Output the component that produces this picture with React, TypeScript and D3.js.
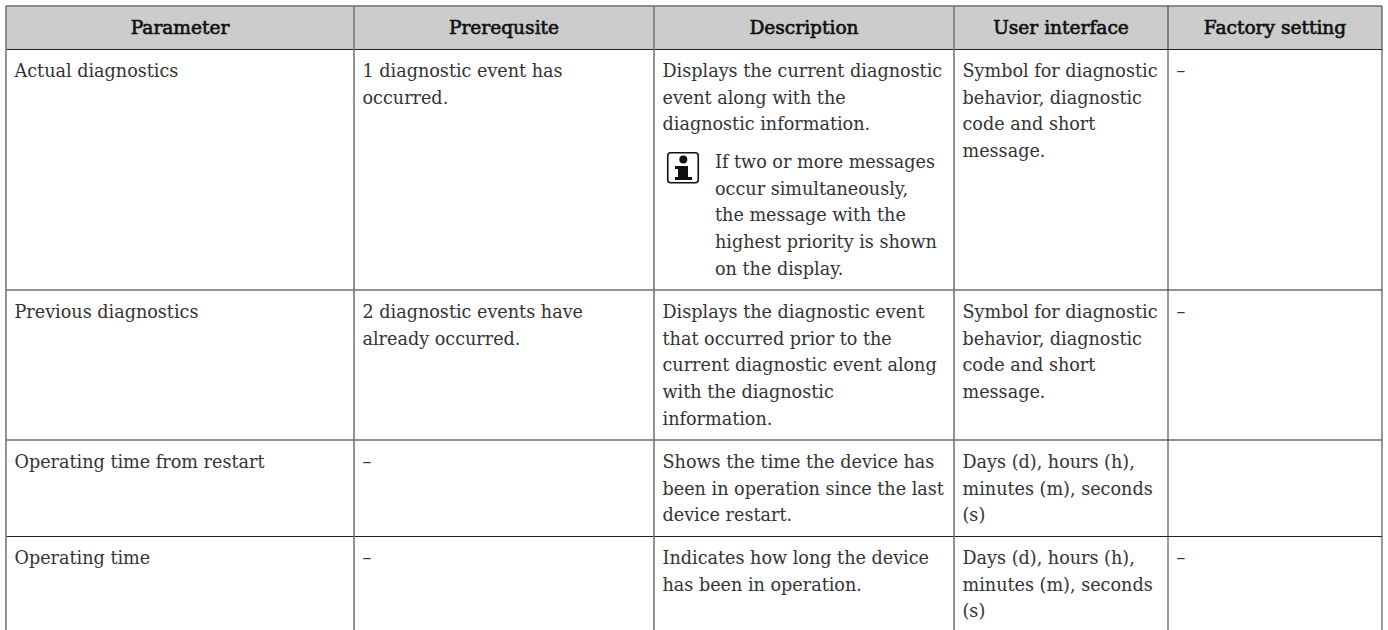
import React from "react";
import * as d3 from "d3";

const headers = ["Parameter", "Prerequsite", "Description", "User interface", "Factory setting"];
const parameters = [
  ["Actual diagnostics"],
  ["Previous diagnostics"],
  ["Operating time from restart"],
  ["Operating time"],
];
const prerequisites = [
  ["1 diagnostic event has", "occurred."],
  ["2 diagnostic events have", "already occurred."],
  ["–"],
  ["–"],
];
const descriptions = [
  ["Displays the current diagnostic", "event along with the", "diagnostic information."],
  [
    "Displays the diagnostic event",
    "that occurred prior to the",
    "current diagnostic event along",
    "with the diagnostic",
    "information.",
  ],
  ["Shows the time the device has", "been in operation since the last", "device restart."],
  ["Indicates how long the device", "has been in operation."],
];
const noteLines = [
  "If two or more messages",
  "occur simultaneously,",
  "the message with the",
  "highest priority is shown",
  "on the display.",
];
const userInterfaces = [
  ["Symbol for diagnostic", "behavior, diagnostic", "code and short", "message."],
  ["Symbol for diagnostic", "behavior, diagnostic", "code and short", "message."],
  ["Days (d), hours (h),", "minutes (m), seconds", "(s)"],
  ["Days (d), hours (h),", "minutes (m), seconds", "(s)"],
];
const factorySettings = [["–"], ["–"], [], ["–"]];

const columns = [parameters, prerequisites, descriptions, userInterfaces, factorySettings];

const WIDTH = 1388;
const HEIGHT = 630;
const FONT = "'DejaVu Serif', serif";
const FONT_SIZE = 17.6;
const TEXT = "#333";

// column and row edges
const colEdges = [6, 354, 654, 954, 1168, 1382];
const rowEdges = [6, 49, 290, 440, 536, 630];

const x = d3.scaleOrdinal<number, number>().domain(d3.range(colEdges.length)).range(colEdges);
const y = d3.scaleOrdinal<number, number>().domain(d3.range(rowEdges.length)).range(rowEdges);
const lineY = d3.scaleLinear().domain([0, 1]).range([0, 26.7]);

const App = () => {
  const pad = 8.5;
  const baseline = 28;
  const noteTop = 168;

  return (
    <svg
      width={WIDTH}
      height={HEIGHT}
      style={{ position: "absolute", left: 0, top: 0, background: "#fff" }}
      fontFamily={FONT}
      fontSize={FONT_SIZE}
    >
      <rect x={x(0)} y={y(0)} width={x(5) - x(0)} height={y(1) - y(0)} fill="#cccccc" />

      {/* grid */}
      {[2, 3].map((i) => (
        <line key={i} x1={x(0)} x2={x(5)} y1={y(i)} y2={y(i)} stroke="#6e6e6e" strokeWidth={1.6} />
      ))}
      {[1, 4].map((i) => (
        <line key={i} x1={x(0)} x2={x(5)} y1={y(i) + 0.5} y2={y(i) + 0.5} stroke="#222" strokeWidth={1} />
      ))}
      <line x1={x(0)} x2={x(5)} y1={y(0)} y2={y(0)} stroke="#6e6e6e" strokeWidth={1.4} />
      {colEdges.map((_, i) => (
        <line
          key={i}
          x1={x(i)}
          x2={x(i)}
          y1={y(0)}
          y2={HEIGHT}
          stroke={i === 4 || i === 5 ? "#333" : "#777"}
          strokeWidth={i === 4 || i === 5 ? 1 : 1.6}
        />
      ))}

      {headers.map((h, i) => (
        <text
          key={h}
          x={(x(i) + x(i + 1)) / 2}
          y={y(0) + 28}
          textAnchor="middle"
          fontSize={18.6}
          fill="#111"
          stroke="#111"
          strokeWidth={0.65}
        >
          {h}
        </text>
      ))}

      {columns.map((col, c) =>
        col.map((lines, r) =>
          lines.map((t, l) => (
            <text key={`${c}-${r}-${l}`} x={x(c) + pad} y={y(r + 1) + baseline + lineY(l)} fill={TEXT}>
              {t}
            </text>
          ))
        )
      )}

      {/* note icon */}
      <g transform="translate(667,152)">
        <rect x={0.75} y={0.75} width={30.5} height={30} rx={3} fill="#fff" stroke="#111" strokeWidth={1.6} />
        <circle cx={16.3} cy={7.5} r={4} fill="#111" />
        <path d="M8 14h13v11h4v3H8v-3h3v-8H8z" fill="#111" />
      </g>
      {noteLines.map((t, l) => (
        <text key={t} x={715} y={noteTop + lineY(l)} fill={TEXT}>
          {t}
        </text>
      ))}
    </svg>
  );
};

export default App;
